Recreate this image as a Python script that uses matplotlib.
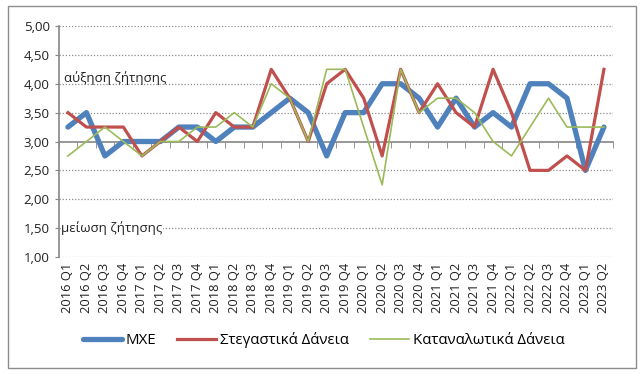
import matplotlib
matplotlib.use("Agg")
from matplotlib import pyplot as plt
from matplotlib.patches import Rectangle
from matplotlib.ticker import FuncFormatter
import numpy as np

plt.rcParams['font.family'] = ['Open Sans', 'DejaVu Sans']

quarters = ["2016 Q1", "2016 Q2", "2016 Q3", "2016 Q4",
            "2017 Q1", "2017 Q2", "2017 Q3", "2017 Q4",
            "2018 Q1", "2018 Q2", "2018 Q3", "2018 Q4",
            "2019 Q1", "2019 Q2", "2019 Q3", "2019 Q4",
            "2020 Q1", "2020 Q2", "2020 Q3", "2020 Q4",
            "2021 Q1", "2021 Q2", "2021 Q3", "2021 Q4",
            "2022 Q1", "2022 Q2", "2022 Q3", "2022 Q4",
            "2023 Q1", "2023 Q2"]

mxe = [3.25, 3.50, 2.75, 3.00, 3.00, 3.00, 3.25, 3.25,
       3.00, 3.25, 3.25, 3.50, 3.75, 3.50, 2.75, 3.50,
       3.50, 4.00, 4.00, 3.75, 3.25, 3.75, 3.25, 3.50,
       3.25, 4.00, 4.00, 3.75, 2.50, 3.25]

housing = [3.50, 3.25, 3.25, 3.25, 2.75, 3.00, 3.25, 3.00,
           3.50, 3.25, 3.25, 4.25, 3.75, 3.00, 4.00, 4.25,
           3.75, 2.75, 4.25, 3.50, 4.00, 3.50, 3.25, 4.25,
           3.50, 2.50, 2.50, 2.75, 2.50, 4.25]

consumer = [2.75, 3.00, 3.25, 3.00, 2.75, 3.00, 3.00, 3.25,
            3.25, 3.50, 3.25, 4.00, 3.75, 3.00, 4.25, 4.25,
            3.25, 2.25, 4.25, 3.50, 3.75, 3.75, 3.50, 3.00,
            2.75, 3.25, 3.75, 3.25, 3.25, 3.25]

yticks = [1.0, 1.5, 2.0, 2.5, 3.0, 3.5, 4.0, 4.5, 5.0]

fig = plt.figure(figsize=(6.41, 3.74), dpi=100)
ax = fig.add_axes([0.0916, 0.3128, 0.865, 0.6177])

x = np.arange(len(quarters))
ax.plot(x, mxe, color='#4F81BD', lw=3.8, solid_capstyle='round', label='ΜΧΕ', zorder=3)
ax.plot(x, housing, color='#C0504D', lw=2.3, label='Στεγαστικά Δάνεια', zorder=4)
ax.plot(x, consumer, color='#9BBB59', lw=1.2, label='Καταναλωτικά Δάνεια', zorder=5)

ax.set_xlim(-0.5, len(quarters) - 0.5)
ax.set_ylim(1, 5)
ax.set_yticks(yticks)
ax.yaxis.set_major_formatter(FuncFormatter(lambda v, p: f"{v:.2f}".replace('.', ',')))
for v in yticks:
    if v != 3.0:
        ax.axhline(v, color='#8c8c8c', lw=0.9, ls=(0, (1, 1.5)), zorder=1)

ax.set_xticks(x)
ax.set_xticklabels(quarters)
ax.set_xticks(np.arange(-0.5, len(quarters), 1), minor=True)
ax.tick_params(axis='x', which='major', bottom=True, top=False, length=0,
               labelsize=9.3, pad=4, colors='#222222', labelrotation=90)
ax.tick_params(axis='x', which='minor', bottom=False, top=True, direction='in',
               length=4, color='#868686')
ax.tick_params(axis='y', length=3, color='#868686', labelsize=9.5, colors='#222222')

for s in ['right', 'bottom']:
    ax.spines[s].set_visible(False)
ax.spines['top'].set_position(('data', 3))
ax.spines['top'].set_color('#868686')
ax.spines['top'].set_linewidth(1.2)
ax.spines['left'].set_color('#868686')
ax.spines['left'].set_linewidth(1.2)

ax.text(-0.2, 4.09, 'αύξηση ζήτησης', fontsize=9.5, va='center', ha='left', color='#222222')
ax.text(-0.35, 1.5, 'μείωση ζήτησης', fontsize=9.5, va='center', ha='left', color='#222222',
        bbox=dict(facecolor='white', edgecolor='none', pad=0.5))

ax.legend(loc='center', bbox_to_anchor=(0.505, 0.09), bbox_transform=fig.transFigure,
          ncol=3, frameon=False, fontsize=10.8, handlelength=2.6, columnspacing=1.4,
          handletextpad=0.25)

fig.patches.append(Rectangle((8 / 641, 6 / 374), 628 / 641, 362 / 374,
                             transform=fig.transFigure, fill=False,
                             edgecolor='#8c8c8c', lw=1))

fig.savefig('out.png', dpi=100)
